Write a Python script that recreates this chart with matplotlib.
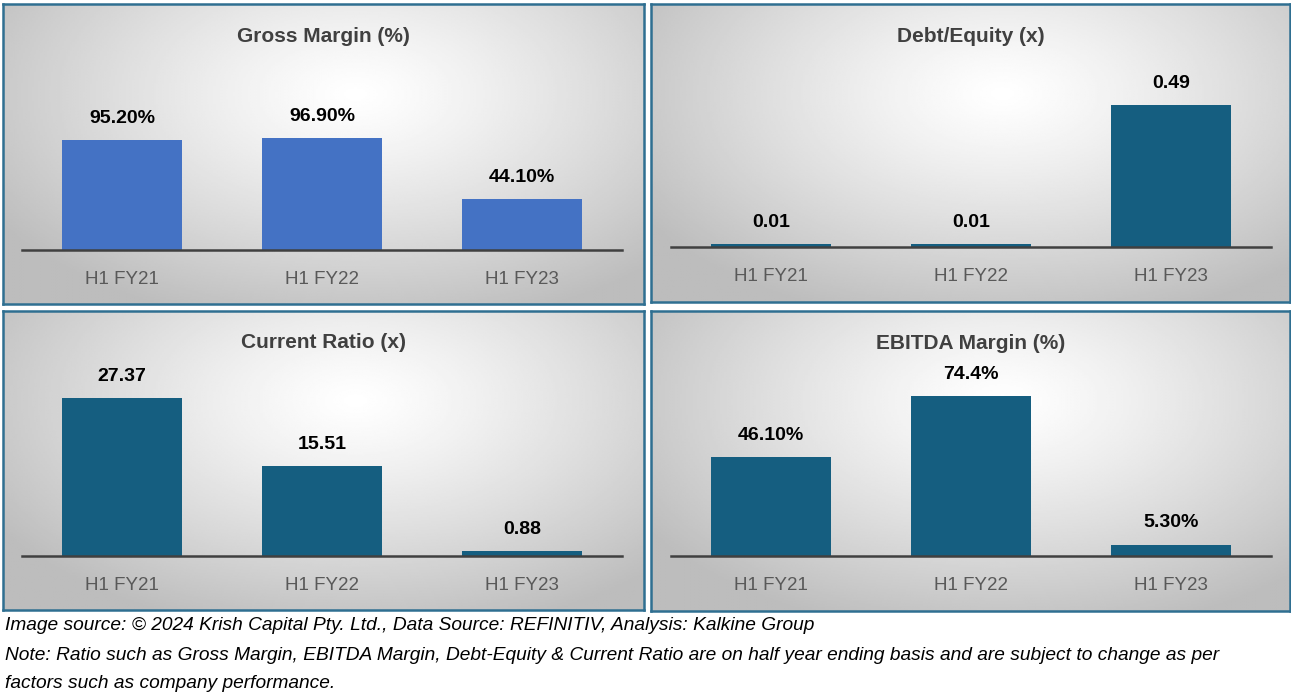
import numpy as np
import matplotlib
matplotlib.use("Agg")
import matplotlib.pyplot as plt
from matplotlib import font_manager

names = {f.name for f in font_manager.fontManager.ttflist}
NARROW = "Liberation Sans Narrow" if "Liberation Sans Narrow" in names else "Liberation Sans"
plt.rcParams["font.family"] = [NARROW, "DejaVu Sans"]

categories = ["H1 FY21", "H1 FY22", "H1 FY23"]

gross_margin = [95.20, 96.90, 44.10]
gross_labels = ["95.20%", "96.90%", "44.10%"]

debt_equity = [0.01, 0.01, 0.49]
debt_labels = ["0.01", "0.01", "0.49"]

current_ratio = [27.37, 15.51, 0.88]
current_labels = ["27.37", "15.51", "0.88"]

ebitda_margin = [46.10, 74.4, 5.30]
ebitda_labels = ["46.10%", "74.4%", "5.30%"]

W, H = 1291, 696
fig = plt.figure(figsize=(W / 100, H / 100), dpi=100)
fig.patch.set_facecolor("white")

BORDER = "#2f6f91"
LIGHT_BLUE = "#4472c4"
DARK_TEAL = "#155e80"


def px_rect(x0, y0, x1, y1):
    return [x0 / W, 1 - y1 / H, (x1 - x0) / W, (y1 - y0) / H]


# radial grey gradient used behind each chart card
gy, gx = np.mgrid[0:1:200j, 0:1:300j]
r = np.sqrt(((gx - 0.55) / 0.75) ** 2 + ((gy - 0.3) / 0.9) ** 2)
grad = np.clip(1.0 - 0.30 * r ** 1.2, 0.74, 1.0)

panels = [
    # (card rect px, axes x0, x1, baseline, title, values, labels, colour, ymax)
    ((3, 4, 644, 304), 22, 622, 250, "Gross Margin (%)",
     gross_margin, gross_labels, LIGHT_BLUE, 160),
    ((651, 4, 1290, 302), 671, 1271, 247, "Debt/Equity (x)",
     debt_equity, debt_labels, DARK_TEAL, 0.64),
    ((3, 311, 644, 610), 22, 622, 556, "Current Ratio (x)",
     current_ratio, current_labels, DARK_TEAL, 32),
    ((651, 311, 1290, 611), 671, 1271, 556, "EBITDA Margin (%)",
     ebitda_margin, ebitda_labels, DARK_TEAL, 86),
]

for rect, ax0, ax1, base, title, vals, labs, col, ymax in panels:
    cx0, cy0, cx1, cy1 = rect
    bg = fig.add_axes(px_rect(cx0, cy0, cx1, cy1))
    bg.imshow(grad, cmap="gray", vmin=0, vmax=1, aspect="auto",
              extent=[0, 1, 0, 1], origin="upper")
    bg.set_xticks([]); bg.set_yticks([])
    for s in bg.spines.values():
        s.set_color(BORDER)
        s.set_linewidth(1.8)
    bg.text(0.5, 1 - 32 / (cy1 - cy0), title, transform=bg.transAxes,
            ha="center", va="center", fontsize=15, weight="bold",
            color="#404040")

    ax = fig.add_axes(px_rect(ax0, base - 185, ax1, base))
    ax.patch.set_alpha(0)
    xs = np.arange(len(categories))
    ax.bar(xs, vals, width=0.6, color=col, zorder=3)
    for x, v, t in zip(xs, vals, labs):
        ax.annotate(t, (x, v), xytext=(0, 9.5), textcoords="offset points",
                    ha="center", va="bottom", fontsize=14, weight="bold",
                    color="black")
    ax.set_xlim(-0.5, 2.5)
    ax.set_ylim(0, ymax)
    ax.set_xticks(xs)
    ax.set_xticklabels(categories, fontsize=13.5, color="#595959")
    ax.tick_params(axis="x", length=0, pad=15)
    ax.set_yticks([])
    for s in ("top", "right", "left"):
        ax.spines[s].set_visible(False)
    ax.spines["bottom"].set_color("#404040")
    ax.spines["bottom"].set_linewidth(1.8)
    ax.spines["bottom"].set_zorder(4)

notes = [
    "Image source: \u00a9 2024 Krish Capital Pty. Ltd., Data Source: REFINITIV, Analysis: Kalkine Group",
    "Note: Ratio such as Gross Margin, EBITDA Margin, Debt-Equity & Current Ratio are on half year ending basis and are subject to change as per",
    "factors such as company performance.",
]
for i, line in enumerate(notes):
    fig.text(5 / W, 1 - (626 + i * 29) / H, line, ha="left", va="center",
             fontsize=13.8, style="italic", color="black")

fig.savefig("out.png", dpi=100)
